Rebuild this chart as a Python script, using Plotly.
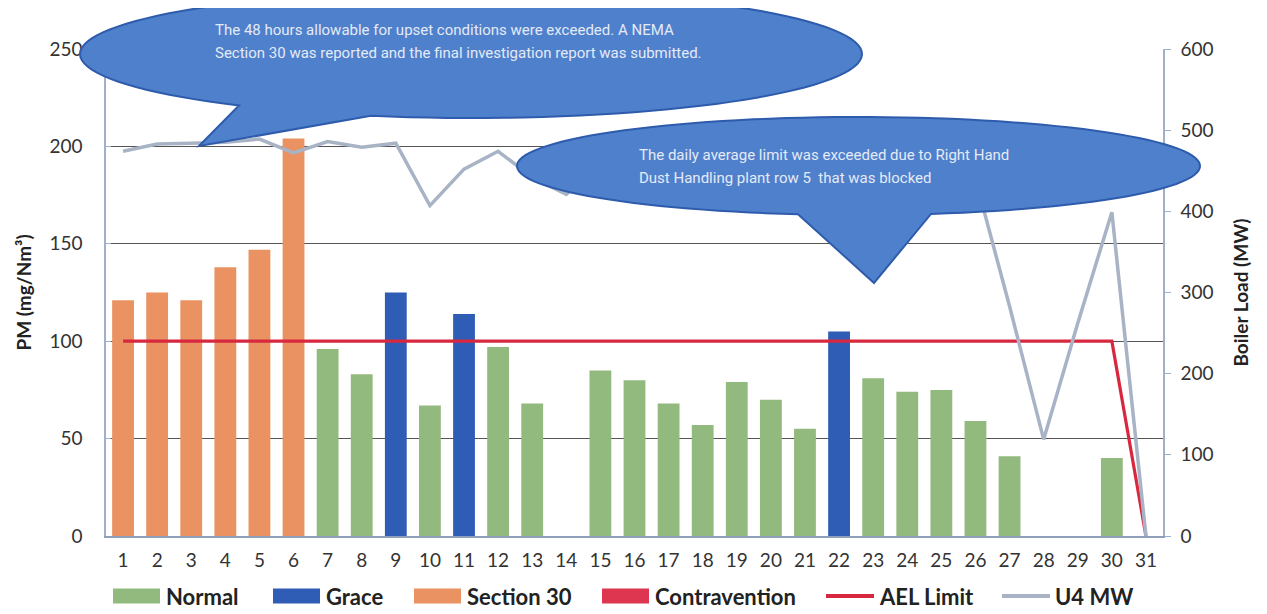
import math
import plotly.graph_objects as go

# ---------------- data ----------------
days = list(range(1, 32))
pm_values = [121, 125, 121, 138, 147, 204, 96, 83, 125, 67, 114, 97, 68, None,
             85, 80, 68, 57, 79, 70, 55, 105, 81, 74, 75, 59, 41, None, None, 40, None]
status = ["Section 30", "Section 30", "Section 30", "Section 30", "Section 30", "Section 30",
          "Normal", "Normal", "Grace", "Normal", "Grace", "Normal", "Normal", "",
          "Normal", "Normal", "Normal", "Normal", "Normal", "Normal", "Normal", "Grace",
          "Normal", "Normal", "Normal", "Normal", "Normal", "", "", "Normal", ""]
ael_limit = [100, 100, 100, 100, 100, 100, 100, 100, 100, 100, 100, 100, 100, 100, 100,
             100, 100, 100, 100, 100, 100, 100, 100, 100, 100, 100, 100, 100, 100, 100, 0]
u4_mw = [474, 483, 484, 485, 489, 472, 486, 479, 484, 407, 452, 474, 442, 421, 460,
         480, 475, 470, 485, 478, 470, 482, 476, 480, 470, 440, 283, 119, 262, 399, 0]
status_order = ["Normal", "Grace", "Section 30", "Contravention"]
status_colors = {"Normal": "#93BA7E", "Grace": "#2F5DB6",
                 "Section 30": "#EA9261", "Contravention": "#DE3550"}
line_colors = {"AEL Limit": "#D8283F", "U4 MW": "#A9B3C6"}
legend_names = ["Normal", "Grace", "Section 30", "Contravention", "AEL Limit", "U4 MW"]

callout1_lines = ["The 48 hours allowable for upset conditions were exceeded. A NEMA",
                  "Section 30 was reported and the final investigation report was submitted."]
callout2_lines = ["The daily average limit was exceeded due to Right Hand",
                  "Dust Handling plant row 5  that was blocked"]

# ---------------- layout geometry (screen pixels) ----------------
SCREEN_W, SCREEN_H = 1267, 614
PAGE_OFF = 8                      # default body margin of the html page
W, H = SCREEN_W - PAGE_OFF, SCREEN_H - PAGE_OFF
L, R, T, B = 106, 1163, 49, 536   # plot area on screen
PW, PH = R - L, B - T


def px(xp):
    return (xp - L) / PW


def py(yp):
    return (B - yp) / PH


def callout_path(cx, cy, rx, ry, xa, xb, tip, n=120):
    ta = math.acos((xa - cx) / rx)
    tb = math.acos((xb - cx) / rx)
    pts = [tip]
    for i in range(n + 1):
        t = ta + (tb + 2 * math.pi - ta) * i / n
        pts.append((cx + rx * math.cos(t), cy + ry * math.sin(t)))
    pts.append(tip)
    return "M " + " L ".join(f"{px(a):.5f},{py(b):.5f}" for a, b in pts) + " Z"


FONT = "Lato, 'Open Sans', sans-serif"
NARROW = "'Liberation Sans Narrow', 'Arial Narrow', Roboto, sans-serif"

fig = go.Figure()

for st in status_order:
    yv = [v if s == st else None for v, s in zip(pm_values, status)]
    fig.add_trace(go.Bar(x=days, y=yv, name=st, marker_color=status_colors[st],
                         marker_line_width=0, width=0.64, showlegend=False))

fig.add_trace(go.Scatter(x=days, y=ael_limit, name="AEL Limit", mode="lines",
                         line=dict(color=line_colors["AEL Limit"], width=3.2), showlegend=False))
fig.add_trace(go.Scatter(x=days, y=u4_mw, name="U4 MW", mode="lines", yaxis="y2",
                         line=dict(color=line_colors["U4 MW"], width=3.5), showlegend=False))

shapes = []
for (cx, cy, rx, ry, xa, xb, tip) in [
    (471, 54, 391, 64, 239, 371, (199, 146)),
    (858.5, 166, 341.5, 49, 798, 931, (874, 283)),
]:
    shapes.append(dict(type="path", xref="paper", yref="paper", layer="above",
                       path=callout_path(cx, cy, rx, ry, xa, xb, tip),
                       fillcolor="#4F80CC", line=dict(color="#2E5BAC", width=2)))

annotations = []
for lines, x0, y0 in [(callout1_lines, 213, 30), (callout2_lines, 637, 155)]:
    for i, txt in enumerate(lines):
        annotations.append(dict(xref="paper", yref="paper", x=px(x0), y=py(y0 + i * 23),
                                xanchor="left", yanchor="middle", text=txt, showarrow=False,
                                font=dict(family=NARROW, size=15, color="#E4EAF6")))

# custom legend (wide swatches like the original)
legend_swatch_x = [113, 273, 414, 602, 826, 1002]
legend_y = 596
for name, sx in zip(legend_names, legend_swatch_x):
    if name in status_colors:
        shapes.append(dict(type="rect", xref="paper", yref="paper",
                           x0=px(sx), x1=px(sx + 47), y0=py(legend_y - 7.5), y1=py(legend_y + 7.5),
                           fillcolor=status_colors[name], line=dict(width=0)))
    else:
        shapes.append(dict(type="line", xref="paper", yref="paper",
                           x0=px(sx), x1=px(sx + 48), y0=py(legend_y), y1=py(legend_y),
                           line=dict(color=line_colors[name], width=4)))
    annotations.append(dict(xref="paper", yref="paper", x=px(sx + 51), y=py(legend_y),
                            xanchor="left", yanchor="middle", text=name, showarrow=False,
                            font=dict(family=FONT, size=22, color="#222222", weight="bold")))

fig.update_layout(
    width=W, height=H,
    margin=dict(l=L - PAGE_OFF, r=W - (R - PAGE_OFF), t=T - PAGE_OFF,
                b=H - (B - PAGE_OFF), autoexpand=False),
    paper_bgcolor="white", plot_bgcolor="white",
    barmode="overlay", showlegend=False,
    font=dict(family=FONT, color="#333333"),
    shapes=shapes, annotations=annotations,
    xaxis=dict(range=[0.5, 31.5], tickmode="array", tickvals=days,
               ticktext=[str(d) for d in days], showgrid=False, zeroline=False,
               showline=True, linecolor="#8FA0B8", linewidth=1.5, ticks="",
               tickfont=dict(size=19, color="#333333"), ticklabelstandoff=6,
               automargin=False),
    yaxis=dict(range=[0, 250], dtick=50, showgrid=True, gridcolor="#555555", gridwidth=1,
               zeroline=False, showline=True, linecolor="#9FB0C8", linewidth=1.5,
               ticks="inside", ticklen=5, tickcolor="#9FB0C8",
               tickfont=dict(size=19, color="#333333"), ticklabelstandoff=18,
               automargin=False,
               title=dict(text="PM (mg/Nm³)", standoff=13,
                          font=dict(size=19, color="#222222", weight="bold"))),
    yaxis2=dict(range=[0, 600], dtick=100, overlaying="y", side="right", showgrid=False,
                zeroline=False, showline=True, linecolor="#9FB0C8", linewidth=1.5,
                ticks="outside", ticklen=6, tickcolor="#9FB0C8",
                tickfont=dict(size=19, color="#333333"), ticklabelstandoff=6,
                automargin=False,
                title=dict(text="Boiler Load (MW)", standoff=22,
                           font=dict(size=19, color="#222222", weight="bold"))),
)

fig.write_html("out.html")
